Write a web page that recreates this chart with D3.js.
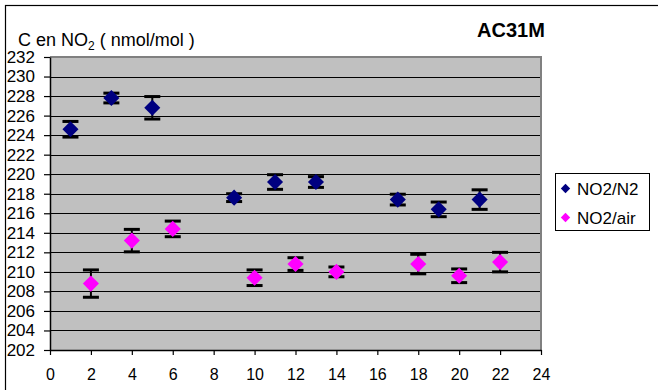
<!DOCTYPE html>
<html><head><meta charset="utf-8">
<script src="https://cdn.jsdelivr.net/npm/d3@7"></script>
<style>body{margin:0;background:#fff}svg{display:block;font-family:Arial,"Liberation Sans",sans-serif}</style>
</head><body><div id="c"></div>
<script>
const n2X = [1,3,5,9,11,13,17,19,21];
const n2Y = [224.6,227.8,226.8,217.6,219.2,219.2,217.4,216.4,217.4];
const n2Err = [0.8,0.5,1.15,0.4,0.75,0.55,0.55,0.75,1.0];
const airX = [2,4,6,10,12,14,18,20,22];
const airY = [208.8,213.2,214.4,209.4,210.8,210.0,210.8,209.6,211.0];
const airErr = [1.4,1.15,0.8,0.8,0.65,0.5,1.0,0.7,1.0];
const yTicks = d3.range(202,233,2);
const xTicks = d3.range(0,25,2);
const seriesNames = ["NO2/N2","NO2/air"];
const colors = ["#000080","#ff00ff"];

const W=658,H=390;
const FF="Arial, Liberation Sans, sans-serif";
const svg=d3.select("#c").append("svg").attr("width",W).attr("height",H);
svg.append("rect").attr("x",5.5).attr("y",5.5).attr("width",W+10).attr("height",H+10).attr("fill","#fff").attr("stroke","#000").attr("stroke-width",1.2);

const L=50,R=541,T=57,B=350;
const x=d3.scaleLinear().domain([0,24]).range([L,R]);
const y=d3.scaleLinear().domain([202,232]).range([B,T]);

svg.append("rect").attr("x",L).attr("y",T).attr("width",R-L).attr("height",B-T).attr("fill","#c0c0c0");
svg.append("g").selectAll("line").data(yTicks.filter(d=>d>202&&d<232)).join("line")
 .attr("x1",L).attr("x2",R).attr("y1",d=>Math.round(y(d))+0.5).attr("y2",d=>Math.round(y(d))+0.5)
 .attr("stroke","#000").attr("stroke-width",1);
svg.append("path").attr("d",`M${L},${T} H${R} V${B}`).attr("fill","none").attr("stroke","#808080").attr("stroke-width",2);

const yAx=svg.append("g").attr("transform",`translate(${L},0)`)
 .call(d3.axisLeft(y).tickValues(yTicks).tickSize(6).tickPadding(9).tickSizeOuter(0));
const xAx=svg.append("g").attr("transform",`translate(0,${B})`)
 .call(d3.axisBottom(x).tickValues(xTicks).tickSize(5).tickPadding(14).tickSizeOuter(0));
[yAx,xAx].forEach(g=>{g.select(".domain").attr("stroke","#000").attr("stroke-width",1.5);
 g.selectAll(".tick line").attr("stroke","#000").attr("stroke-width",1.2);
 g.selectAll("text").attr("fill","#000").attr("font-family",FF);});
yAx.selectAll("text").attr("font-size",17);
xAx.selectAll("text").attr("font-size",16);

const diamond=d3.symbol().type(d3.symbolDiamond2).size(165);
function drawSeries(xs,ys,es,col){
 const g=svg.append("g");
 const data=xs.map((d,i)=>({x:d,y:ys[i],e:es[i]}));
 const eb=g.selectAll("g.eb").data(data).join("g");
 eb.append("line").attr("x1",d=>x(d.x)).attr("x2",d=>x(d.x)).attr("y1",d=>y(d.y+d.e)).attr("y2",d=>y(d.y-d.e)).attr("stroke","#000").attr("stroke-width",2);
 [1,-1].forEach(s=>eb.append("line").attr("x1",d=>x(d.x)-8).attr("x2",d=>x(d.x)+8).attr("y1",d=>y(d.y+s*d.e)).attr("y2",d=>y(d.y+s*d.e)).attr("stroke","#000").attr("stroke-width",3));
 g.selectAll("path.m").data(data).join("path").attr("class","m").attr("d",diamond)
  .attr("transform",d=>`translate(${x(d.x)},${y(d.y)})`).attr("fill",col);
}
drawSeries(n2X,n2Y,n2Err,colors[0]);
drawSeries(airX,airY,airErr,colors[1]);

svg.append("text").attr("x",511).attr("y",37).attr("text-anchor","middle").attr("font-weight","bold").attr("font-size",20).text("AC31M");
const yt=svg.append("text").attr("x",18).attr("y",46).attr("font-size",18);
yt.append("tspan").text("C en NO");
yt.append("tspan").attr("font-size",12).attr("dy",4).text("2");
yt.append("tspan").attr("dy",-4).text(" ( nmol/mol )");

const lg=svg.append("g");
lg.append("rect").attr("x",555.5).attr("y",173.5).attr("width",94).attr("height",57).attr("fill","#fff").attr("stroke","#000").attr("stroke-width",1);
seriesNames.forEach((n,i)=>{
 const yy=188.5+i*29;
 lg.append("path").attr("d",d3.symbol().type(d3.symbolDiamond2).size(56)).attr("transform",`translate(565.5,${yy})`).attr("fill",colors[i]);
 lg.append("text").attr("x",577).attr("y",yy+6).attr("font-size",17).text(n);
});
</script></body></html>
